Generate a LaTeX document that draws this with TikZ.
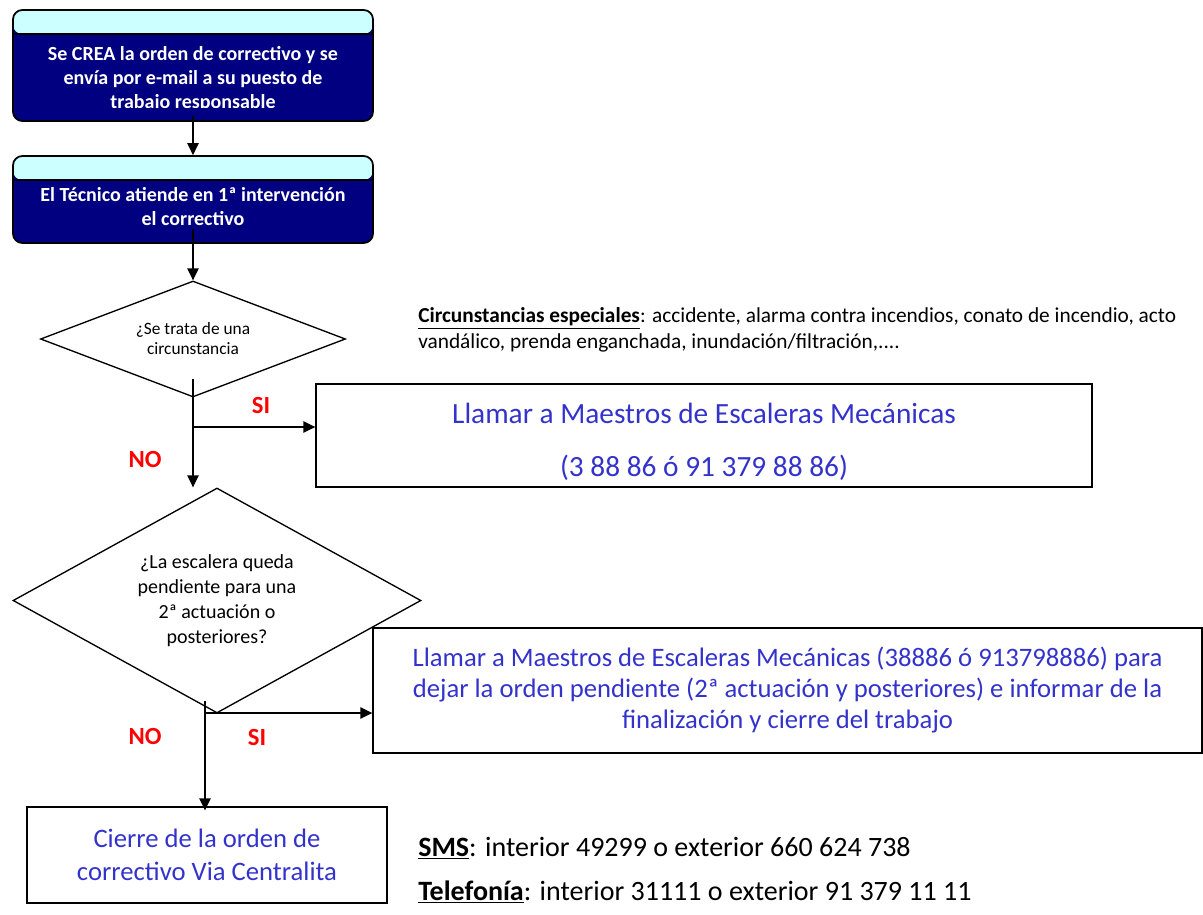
\documentclass[tikz,border=0pt]{standalone}
\usepackage{fontspec}
\setmainfont{Carlito}
\usepackage{xcolor}
\usetikzlibrary{shapes.geometric,arrows.meta}
\definecolor{navyfill}{RGB}{0,0,128}
\definecolor{bandcyan}{RGB}{204,255,255}
\definecolor{callblue}{RGB}{51,51,204}

\begin{document}
\begin{tikzpicture}[x=0.75pt, y=-0.75pt,
    procbox/.style={draw, line width=1.3pt, fill=navyfill, rounded corners=7pt,
        minimum width=270pt, minimum height=#1, inner sep=0pt,
        path picture={
            \fill[bandcyan] (path picture bounding box.north west) rectangle ([yshift=-18pt]path picture bounding box.north east);
            \draw[line width=1.3pt] ([yshift=-18pt]path picture bounding box.north west) -- ([yshift=-18pt]path picture bounding box.north east);}},
    whitebold/.style={text=white, align=center, font=\bfseries\fontsize{15}{18}\selectfont},
    decision/.style={draw, diamond, line width=1pt, inner sep=0pt, align=center},
    plainbox/.style={draw, line width=1pt, inner sep=0pt},
    calltext/.style={text=callblue, align=center, font=\fontsize{20}{23.25}\selectfont},
    answer/.style={text=red, font=\bfseries\fontsize{18.5}{20}\selectfont},
    arr/.style={-{Triangle[length=9pt,width=8.5pt]}, line width=1.1pt}]
        \useasboundingbox (0,0) rectangle (1203,914);

        % Process boxes
        \node[procbox=83.25pt] (crea) at (193,65.5) {};
        \begin{scope}
            \clip (13,36) rectangle (373,107);
            \node[whitebold] (creatxt) at (193,79) {Se CREA la orden de correctivo y se\\envía por e-mail a su puesto de\\trabajo responsable};
        \end{scope}
        \node[procbox=65.25pt] (tecnico) at (193,199.5) {};
        \node[whitebold] (tecnicotxt) at (193,207) {El Técnico atiende en 1ª intervención\\el correctivo};

        % Decisions
        \node[decision, aspect=2.63, minimum width=228.75pt, minimum height=87pt,
            font=\fontsize{13}{15}\selectfont] (circ) at (193,339) {¿Se trata de una\\circunstancia};
        \node[decision, aspect=1.81, minimum width=306pt, minimum height=168.75pt,
            font=\fontsize{15}{18.75}\selectfont] (pend) at (217,600.5) {¿La escalera queda\\pendiente para una\\2ª actuación o\\posteriores?};

        % Call boxes
        \node[plainbox, minimum width=582pt, minimum height=77.25pt, calltext,
            font=\fontsize{22}{26}\selectfont] (llamar) at (704,435.5) {\rule{0pt}{25pt}Llamar a Maestros de Escaleras Mecánicas\\[14pt](3 88 86 ó 91 379 88 86)};
        \node[plainbox, minimum width=621.75pt, minimum height=93.75pt, calltext] (llamarpend) at (787.5,690.5) {Llamar a Maestros de Escaleras Mecánicas (38886 ó 913798886) para\\dejar la orden pendiente (2ª actuación y posteriores) e informar de la\\finalización y cierre del trabajo};
        \node[plainbox, minimum width=270pt, minimum height=72pt, calltext,
            font=\fontsize{20}{24.75}\selectfont] (cierre) at (207,855) {Cierre de la orden de\\correctivo Via Centralita};

        % Notes
        \node[anchor=west, align=left, inner sep=0pt, font=\fontsize{16}{19.5}\selectfont] (especiales) at (418,330) {\underline{\textbf{Circunstancias especiales}}: accidente, alarma contra incendios, conato de incendio, acto\\vandálico, prenda enganchada, inundación/filtración,....};
        \node[anchor=west, inner sep=0pt, font=\fontsize{21}{25}\selectfont] (sms) at (418,848) {\underline{\textbf{SMS}}: interior 49299 o exterior 660 624 738};
        \node[anchor=west, inner sep=0pt, font=\fontsize{21}{25}\selectfont] (telefonia) at (418,892) {\underline{\textbf{Telefonía}}: interior 31111 o exterior 91 379 11 11};

        % Connections
        \coordinate (si1) at (193,427);
        \coordinate (nostart) at (205,701);
        \coordinate (si2) at (205,713);
        \draw[arr] ([yshift=4.5pt]crea.south) -- (tecnico.north);
        \draw[arr] ([yshift=11pt]tecnico.south) -- (circ.north);
        \draw[arr] ([yshift=14pt]circ.south) -- (circ.south |- pend.north);
        \draw[arr] (si1) -- (si1 -| llamar.west);
        \draw[arr] (nostart) -- ([yshift=-3pt]nostart |- cierre.north);
        \draw[arr] (si2) -- (si2 -| llamarpend.west);

        % Answers
        \node[answer] (si1lbl) at (261,405) {SI};
        \node[answer] (no1lbl) at (145,459) {NO};
        \node[answer] (no2lbl) at (145,736) {NO};
        \node[answer] (si2lbl) at (257,737) {SI};
\end{tikzpicture}
\end{document}
